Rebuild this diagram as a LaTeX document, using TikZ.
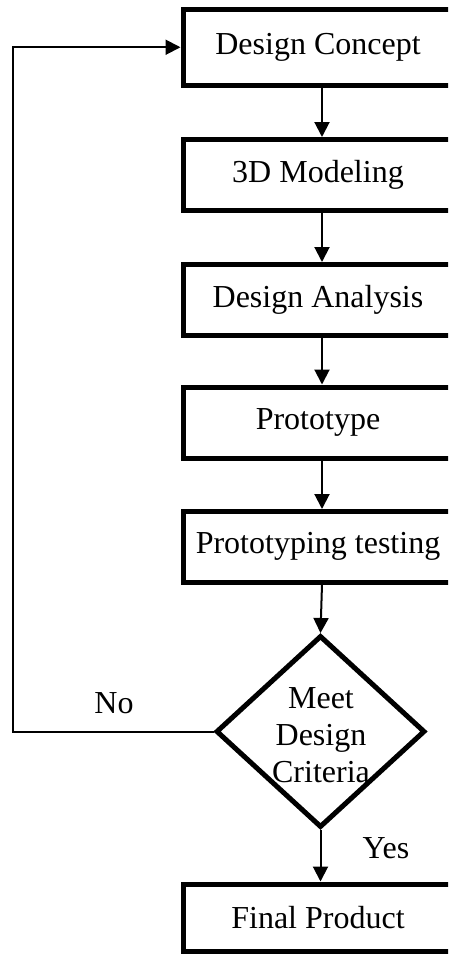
\documentclass[tikz,border=0pt]{standalone}
\usepackage{fontspec}
\setmainfont{Liberation Serif}
\usetikzlibrary{arrows.meta,shapes.geometric}

\tikzset{
  stepbox/.style={draw, line width=5pt, minimum width=270pt, inner sep=0pt,
    font=\fontsize{32}{37}\selectfont},
  decision/.style={draw, diamond, line width=5pt, minimum width=209pt,
    minimum height=192pt, inner sep=0pt},
  flow/.style={line width=2pt, -{Triangle[length=15pt,width=15pt]}},
  lbl/.style={font=\fontsize{32}{37}\selectfont, inner sep=0pt},
}

\begin{document}
\begin{tikzpicture}[x=1pt,y=-1pt]
  \useasboundingbox (0,0) rectangle (448,954);
  \clip (0,0) rectangle (448,954);

  % process steps
  \node[stepbox, minimum height=75.5pt] (concept)  at (318,47.25)  {Design Concept};
  \node[stepbox, minimum height=70.5pt] (model)    at (318,174.75) {3D Modeling};
  \node[stepbox, minimum height=70.5pt] (analysis) at (318,299.75) {Design Analysis};
  \node[stepbox, minimum height=71pt]   (proto)    at (318,422.5)  {Prototype};
  \node[stepbox, minimum height=70.5pt] (test)     at (318,546.75) {Prototyping testing};
  \node[stepbox, minimum height=67pt]   (final)    at (318,917.5)  {Final Product};

  % decision
  \node[decision] (check) at (320.5,731.5) {};
  \node[lbl, align=center] (checktext) at (321,735) {Meet\\Design\\Criteria};

  % column of the main flow and the return path
  \coordinate (col) at (322,0);
  \coordinate (back) at (13,0);

  \draw[flow] (concept.south -| col)  -- (model.north -| col);
  \draw[flow] (model.south -| col)    -- (analysis.north -| col);
  \draw[flow] (analysis.south -| col) -- (proto.north -| col);
  \draw[flow] (proto.south -| col)    -- (test.north -| col);
  \draw[flow] (test.south -| col)     -- (check.north);
  \draw[flow] (check.south)           -- (final.north -| check.south);

  % "No" loop back to the first step
  \draw[flow] (check.west) -- (check.west -| back) |- (concept.west);

  \node[lbl, anchor=base] (nolbl)  at (114,713) {No};
  \node[lbl, anchor=base] (yeslbl) at (386,858) {Yes};
\end{tikzpicture}
\end{document}
